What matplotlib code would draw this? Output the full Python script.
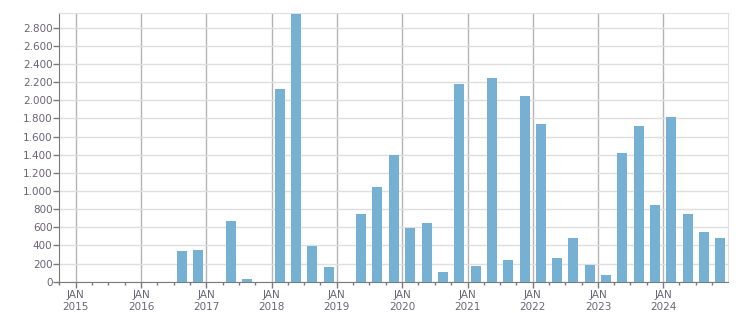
import numpy as np
import pandas as pd
import matplotlib
matplotlib.use("Agg")
import matplotlib.pyplot as plt
import matplotlib.dates as mdates
from matplotlib.ticker import FuncFormatter, MultipleLocator

# quarterly values, 2015Q1 .. 2024Q4
quarters = pd.period_range("2015Q1", "2024Q4", freq="Q")
values = [
    0, 0, 0, 0,            # 2015
    0, 0, 340, 350,        # 2016
    0, 670, 25, 0,         # 2017
    2120, 2950, 395, 160,  # 2018
    0, 745, 1040, 1400,    # 2019
    590, 645, 105, 2180,   # 2020
    170, 2245, 240, 2045,  # 2021
    1740, 260, 480, 185,   # 2022
    70, 1415, 1715, 845,   # 2023
    1815, 745, 545, 480,   # 2024
]
year_labels = [str(y) for y in range(2015, 2025)]

bar_color = "#76b0d3"
text_color = "#6a6478"

mid = quarters.start_time + (quarters.end_time - quarters.start_time) / 2

fig = plt.figure(figsize=(7.51, 3.13), dpi=100)
ax = fig.add_axes([0.079, 0.100, 0.891, 0.8575])

ax.bar(mid, values, width=56, color=bar_color, zorder=3)

ax.set_xlim(pd.Timestamp("2014-10-01"), pd.Timestamp("2024-12-31"))
ax.set_ylim(0, 2960)

# x ticks: JAN of each year, minor on quarters
ax.xaxis.set_major_locator(mdates.YearLocator())
ax.xaxis.set_minor_locator(mdates.MonthLocator(bymonth=[4, 7, 10]))
ax.xaxis.set_major_formatter(mdates.DateFormatter("JAN\n%Y"))

ax.yaxis.set_major_locator(MultipleLocator(200))
ax.yaxis.set_major_formatter(FuncFormatter(lambda v, p: f"{int(v):,}".replace(",", ".")))

ax.grid(axis="y", color="#dedede", lw=1, zorder=0)
ax.grid(axis="x", which="major", color="#b4b4b4", lw=1, zorder=0)

for s in ["top", "right"]:
    ax.spines[s].set_color("#dedede")
for s in ["left", "bottom"]:
    ax.spines[s].set_color("#7a7a7a")

ax.tick_params(axis="both", which="major", colors="#7a7a7a", labelcolor=text_color,
               labelsize=7.5, length=4, width=1)
ax.tick_params(axis="x", which="minor", colors="#7a7a7a", length=2, width=1)
ax.tick_params(axis="x", which="major", pad=2)
ax.tick_params(axis="y", pad=1)

for lbl in ax.get_xticklabels():
    lbl.set_linespacing(1.2)

fig.savefig("out.png", dpi=100)
